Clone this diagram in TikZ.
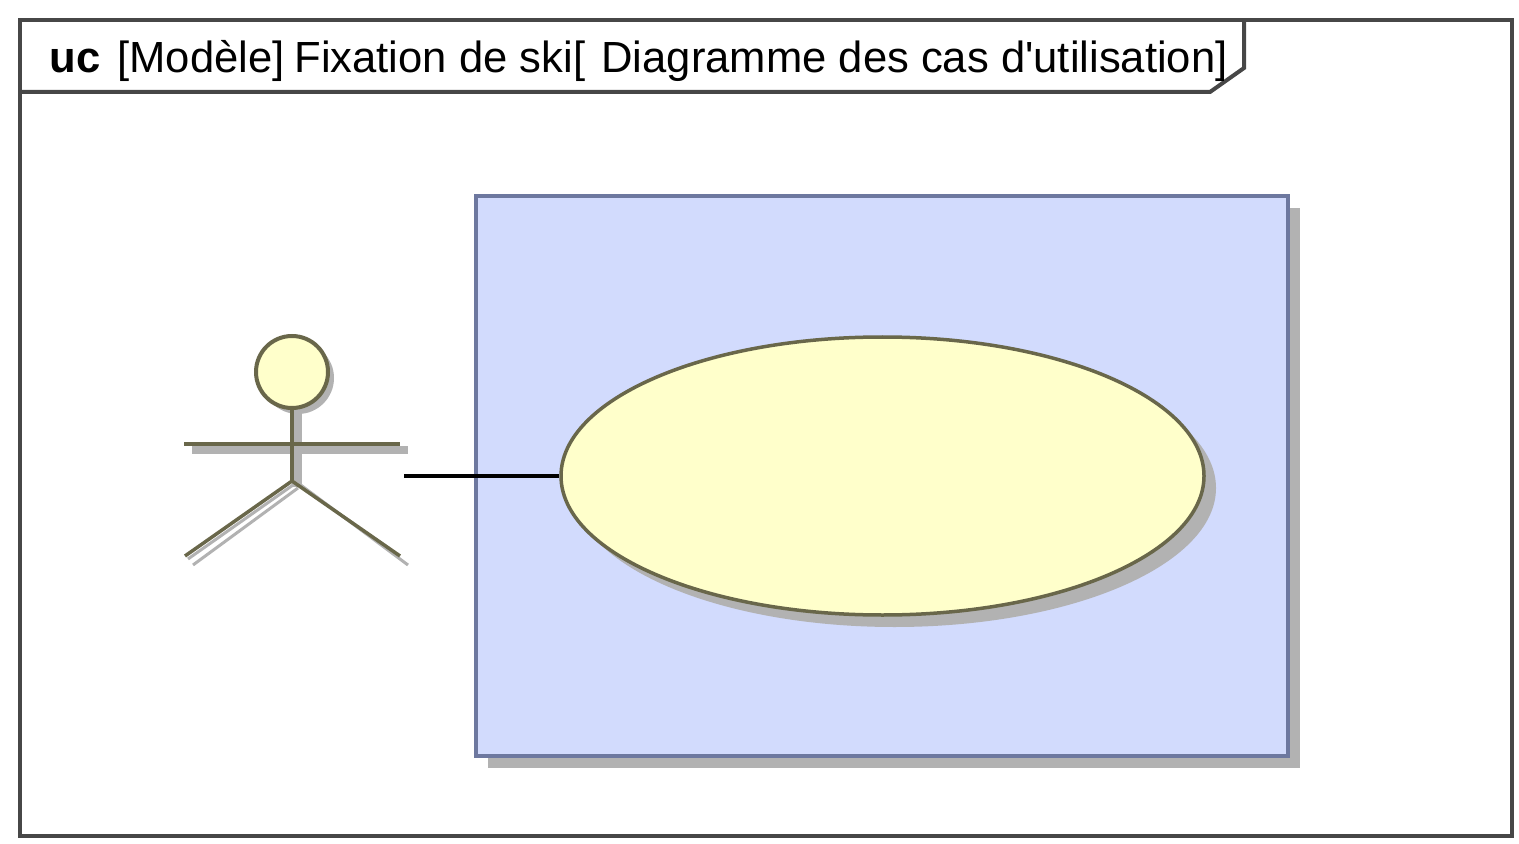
\documentclass[tikz,border=0pt]{standalone}
\usepackage{fontspec}
\setmainfont{Liberation Sans}[Ligatures=TeXOff]
\usetikzlibrary{shapes.geometric}

\definecolor{framegray}{HTML}{474747}
\definecolor{shadowgray}{HTML}{B2B2B2}
\definecolor{blockblue}{HTML}{D2DBFD}
\definecolor{blockline}{HTML}{6D789F}
\definecolor{caseyellow}{HTML}{FFFFCB}
\definecolor{caseline}{HTML}{69674A}

\tikzset{
  title/.style={draw=none,anchor=base west,inner sep=0pt,font=\fontsize{21.8}{22}\selectfont},
  block/.style={rectangle,draw=blockline,fill=blockblue,line width=2pt,inner sep=0pt,minimum width=406pt,minimum height=280pt},
  usecase/.style={ellipse,draw=caseline,fill=caseyellow,line width=1.75pt,inner sep=0pt,minimum width=321.5pt,minimum height=139pt},
  head/.style={circle,draw=caseline,fill=caseyellow,line width=2pt,inner sep=0pt,minimum size=36pt},
  dropshadow/.style={draw=none,fill=shadowgray},
  limb/.style={draw=caseline,line width=2pt},
  limbshadow/.style={draw=shadowgray,line width=1.5pt}
}

\begin{document}
\begin{tikzpicture}[x=0.5pt,y=-0.5pt]
\useasboundingbox (0,0) rectangle (1519,844);

\draw[framegray,line width=2pt] (20,20) rectangle (1512,836); % Outer frame
\draw[framegray,line width=2pt] (20,92) -- (1210,92) -- (1244,68) -- (1244,20); % Title tab

\node [title] (kind) at (49,72.5) {\textbf{uc}};
\node [title] (model) at (117,72.5) {[Modèle]};
\node [title] (name) at (294,72.5) {Fixation de ski[};
\node [title] (view) at (601,72.5) {Diagramme des cas d'utilisation]};

\node [block,dropshadow] (blockshadow) at (894,488) {};
\node [block] (system) at (882,476) {};

\node [usecase,dropshadow] (caseshadow) at (894.5,488) {};
\node [usecase] (fixation) at (882.5,476) {};

% Actor shadow
\node [head,dropshadow] (headshadow) at (298,378) {};
\draw[limbshadow,line width=5pt] (297,408) -- (297,487);
\draw[limbshadow,line width=4pt] (192,450) -- (408,450);
\draw[limbshadow] (293,485) -- (188,559);
\draw[limbshadow] (298,488) -- (193,565);
\draw[limbshadow] (298,483) -- (408,565);

% Actor
\node [head] (actorhead) at (292,372) {};
\coordinate (hip) at (292,481);
\coordinate (lefthand) at (184,444);
\coordinate (righthand) at (400,444);
\coordinate (leftfoot) at (185,556);
\coordinate (rightfoot) at (400,556);
\draw[limb] (actorhead) -- (hip);
\draw[limb] (lefthand) -- (righthand);
\draw[limb,line width=1.75pt] (hip) -- (leftfoot);
\draw[limb,line width=1.75pt] (hip) -- (rightfoot);

\coordinate (actorend) at (404,476);
\draw[black,line width=2pt] (actorend) -- (fixation.west); % Association

\end{tikzpicture}
\end{document}
